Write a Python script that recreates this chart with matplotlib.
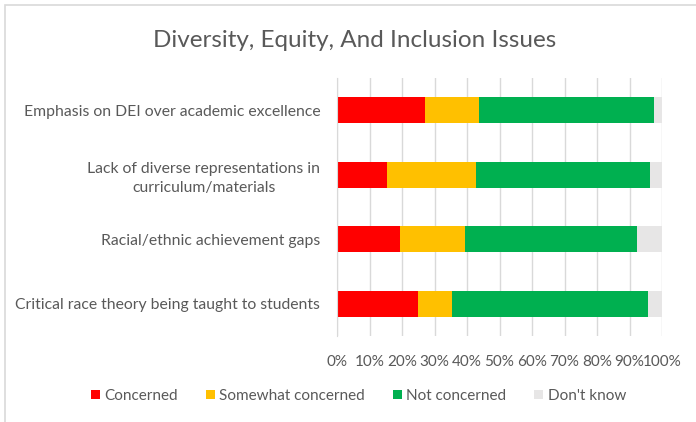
import matplotlib.pyplot as plt
from matplotlib.patches import Rectangle
from matplotlib.ticker import PercentFormatter

plt.rcParams['font.family'] = ['Lato', 'DejaVu Sans']

issues = [
    "Emphasis on DEI over academic excellence",
    "Lack of diverse representations in\ncurriculum/materials",
    "Racial/ethnic achievement gaps",
    "Critical race theory being taught to students",
]
concerned = [27.0, 15.4, 19.3, 25.0]
somewhat = [16.8, 27.4, 20.2, 10.5]
not_concerned = [53.7, 53.4, 52.7, 60.1]
dont_know = [2.5, 3.8, 7.8, 4.4]

series = [
    ("Concerned", concerned, "#FF0000"),
    ("Somewhat concerned", somewhat, "#FFC000"),
    ("Not concerned", not_concerned, "#00B050"),
    ("Don't know", dont_know, "#E7E6E6"),
]

text_col = "#595959"
grid_col = "#D9D9D9"

fig = plt.figure(figsize=(6.96, 4.22), dpi=100)
ax = fig.add_axes([0.4842, 0.204, 0.467, 0.611])

y = list(range(len(issues)))
left = [0.0] * len(issues)
for name, vals, col in series:
    ax.barh(y, vals, left=left, height=0.4, color=col, label=name, zorder=3)
    left = [a + b for a, b in zip(left, vals)]

ax.set_xlim(0, 100)
ax.set_ylim(3.5, -0.5)
ax.set_xticks(range(0, 101, 10))
ax.xaxis.set_major_formatter(PercentFormatter(decimals=0))
ax.set_yticks(y)
ax.set_yticklabels(issues, multialignment="center", linespacing=1.45)
ax.tick_params(axis="both", length=0, colors=text_col)
ax.tick_params(axis="x", pad=14, labelsize=11)
ax.tick_params(axis="y", pad=12, labelsize=11.3)
ax.grid(axis="x", color=grid_col, linewidth=1, zorder=0)
for s in ["top", "right", "bottom"]:
    ax.spines[s].set_visible(False)
ax.spines["left"].set_color(grid_col)
ax.spines["left"].set_zorder(4)

fig.suptitle("Diversity, Equity, And Inclusion Issues", x=0.509, y=0.93,
             fontsize=17.5, color=text_col)

fig.legend(loc="center", bbox_to_anchor=(0.515, 0.062), ncol=4, frameon=False,
           fontsize=11, labelcolor=text_col, handlelength=0.6, handleheight=0.6,
           handletextpad=0.3, columnspacing=1.8)

# light frame around the chart area (cropped at right and bottom)
fig.add_artist(Rectangle((5 / 696, -0.1), 1.2, 1.1 - 5 / 422, transform=fig.transFigure,
                         fill=False, edgecolor="#D9D9D9", linewidth=1.2))

fig.savefig("out.png", dpi=100)
